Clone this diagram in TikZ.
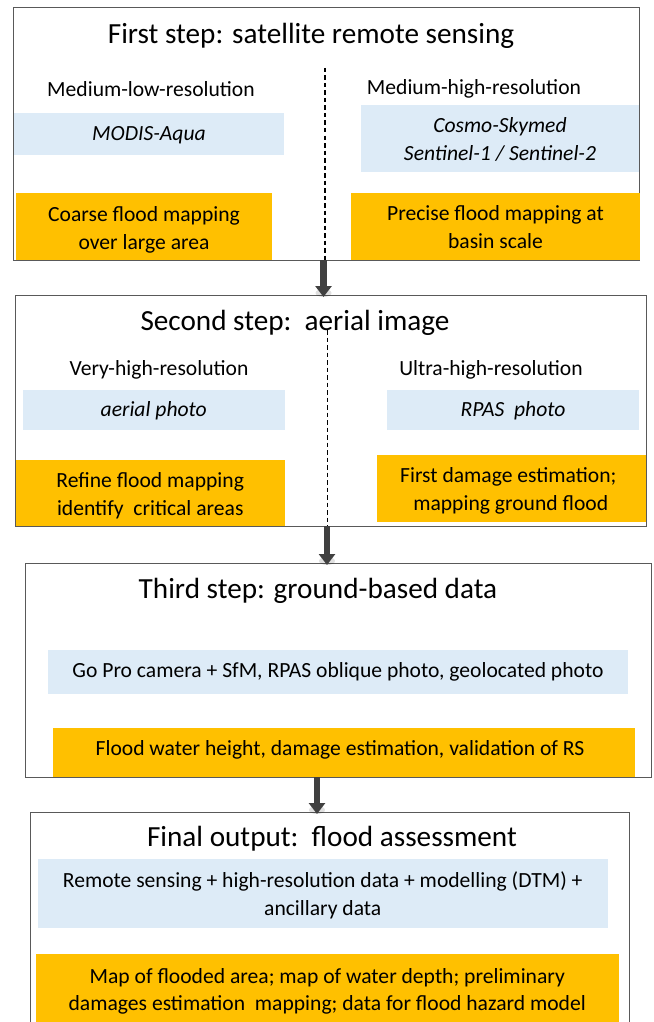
\documentclass[tikz,border=0pt]{standalone}
\usepackage{fontspec}
\setmainfont{Carlito}
\usetikzlibrary{arrows.meta}
\definecolor{lblue}{HTML}{DDEBF7}
\definecolor{gold}{HTML}{FFC000}
\definecolor{framec}{HTML}{595959}
\definecolor{arrc}{HTML}{404040}
\tikzset{
  stepframe/.style={draw=framec, line width=1pt, fill=white, anchor=north west, inner sep=0pt, outer sep=0pt},
  ttl/.style={font=\fontsize{29.2}{34}\selectfont, inner sep=0pt, anchor=base},
  lbl/.style={font=\fontsize{21.6}{27.5}\selectfont, inner sep=0pt, anchor=base, align=center},
  itl/.style={lbl, font=\fontsize{21.6}{28}\selectfont\itshape},
  bluebox/.style={fill=lblue, anchor=north west, inner sep=0pt, outer sep=0pt},
  goldbox/.style={fill=gold, anchor=north west, inner sep=0pt, outer sep=0pt},
  divider/.style={black, line width=1.2pt, dash pattern=on 4.5pt off 3pt},
  bigarrow/.style={arrc, line width=6.5pt, -{Triangle[width=16pt,length=11pt]}},
  tipshadow/.style={fill=black, opacity=0.12}
}
\begin{document}
\begin{tikzpicture}[x=1pt,y=-1pt]
\useasboundingbox (0,0) rectangle (653,1022);
\clip (0,0) rectangle (653,1022);
% ---------- Step 1
\node[stepframe, minimum width=626pt, minimum height=252pt] (s1) at (13,8) {};
\node[ttl] (t1) at (311,44) {First step: satellite remote sensing};
\node[lbl] (r1l) at (151,97) {Medium-low-resolution};
\node[lbl] (r1r) at (474,95) {Medium-high-resolution};
\node[bluebox, minimum width=270pt, minimum height=42pt] (d1l) at (14,113) {};
\node[itl] (d1lt) at (d1l.center |- 0,140.7) {MODIS-Aqua};
\node[bluebox, minimum width=278pt, minimum height=67pt] (d1r) at (361,105) {};
\node[itl] (d1rt) at (d1r.center |- 0,160.7) {Cosmo-Skymed\\Sentinel-1 / Sentinel-2};
\node[goldbox, minimum width=256pt, minimum height=67pt] (o1l) at (16,193) {};
\node[lbl] (o1lt) at (o1l.center |- 0,249) {Coarse flood mapping\\over large area};
\node[goldbox, minimum width=289pt, minimum height=67pt] (o1r) at (351,193) {};
\node[lbl] (o1rt) at (o1r.center |- 0,248.3) {Precise flood mapping at\\basin scale};
\coordinate (dv1) at (325,68);
\draw[divider] (dv1) -- (dv1 |- s1.south);
% ---------- Step 2
\node[stepframe, minimum width=631pt, minimum height=231pt] (s2) at (15,295) {};
\node[ttl] (t2) at (295,330) {Second step:\ \ aerial image};
\node[lbl] (r2l) at (159,375) {Very-high-resolution};
\node[lbl] (r2r) at (491,375) {Ultra-high-resolution};
\node[bluebox, minimum width=261.5pt, minimum height=40pt] (d2l) at (23,390) {};
\node[itl] (d2lt) at (d2l.center |- 0,416.7) {aerial photo};
\node[bluebox, minimum width=252pt, minimum height=40pt] (d2r) at (387,390) {};
\node[itl] (d2rt) at (d2r.center |- 0,416.7) {RPAS\ \ photo};
\node[goldbox, minimum width=268.5pt, minimum height=66pt] (o2l) at (16,460) {};
\node[lbl] (o2lt) at (o2l.center |- 0,515) {Refine flood mapping\\identify\ \ critical areas};
\node[goldbox, minimum width=269.4pt, minimum height=67pt] (o2r) at (376.6,455) {};
\node[lbl] (o2rt) at ([xshift=-3pt]o2r.center |- 0,510) {First damage estimation;\\\ mapping ground flood};
\coordinate (dv2) at (327.6,330);
\draw[divider] (dv2) -- (dv2 |- s2.south);
% ---------- Step 3
\node[stepframe, minimum width=626pt, minimum height=214pt] (s3) at (25,563) {};
\node[ttl] (t3) at (318,598) {Third step: ground-based data};
\node[bluebox, minimum width=580pt, minimum height=44pt] (d3) at (48,650) {};
\node[lbl] (d3t) at (d3.center |- 0,677.3) {Go Pro camera + SfM, RPAS oblique photo, geolocated photo};
\node[goldbox, minimum width=582pt, minimum height=49pt] (o3) at (53,728) {};
\node[lbl] (o3t) at ([xshift=-4pt]o3.center |- 0,755) {Flood water height, damage estimation, validation of RS};
% ---------- Final
\node[stepframe, minimum width=599pt, minimum height=230pt] (s4) at (30,812) {};
\node[ttl] (t4) at (332,846.7) {Final output:\ \ flood assessment};
\node[bluebox, minimum width=570.5pt, minimum height=69pt] (d4) at (37.5,859) {};
\node[lbl] (d4t) at (d4.center |- 0,915) {Remote sensing + high-resolution data + modelling (DTM) +\\ancillary data};
\node[goldbox, minimum width=583.5pt, minimum height=76pt] (o4) at (35.5,954) {};
\node[lbl] (o4t) at (o4.center |- 0,1010.7) {Map of flooded area; map of water depth; preliminary\\damages estimation\ \ mapping; data for flood hazard model};
% ---------- Arrows
\coordinate (ax1) at (323.5,0);
\coordinate (ax2) at (327,0);
\coordinate (ax3) at (317,0);
\fill[tipshadow] ([yshift=2pt]s2.north -| ax1) ellipse (8pt and 4pt);
\fill[tipshadow] ([yshift=2pt]s3.north -| ax2) ellipse (8pt and 4pt);
\fill[tipshadow] ([yshift=2pt]s4.north -| ax3) ellipse (8pt and 4pt);
\draw[bigarrow] (s1.south -| ax1) -- ([yshift=-2pt]s2.north -| ax1);
\draw[bigarrow] (s2.south -| ax2) -- ([yshift=-2pt]s3.north -| ax2);
\draw[bigarrow] (s3.south -| ax3) -- ([yshift=-2pt]s4.north -| ax3);
\end{tikzpicture}
\end{document}
